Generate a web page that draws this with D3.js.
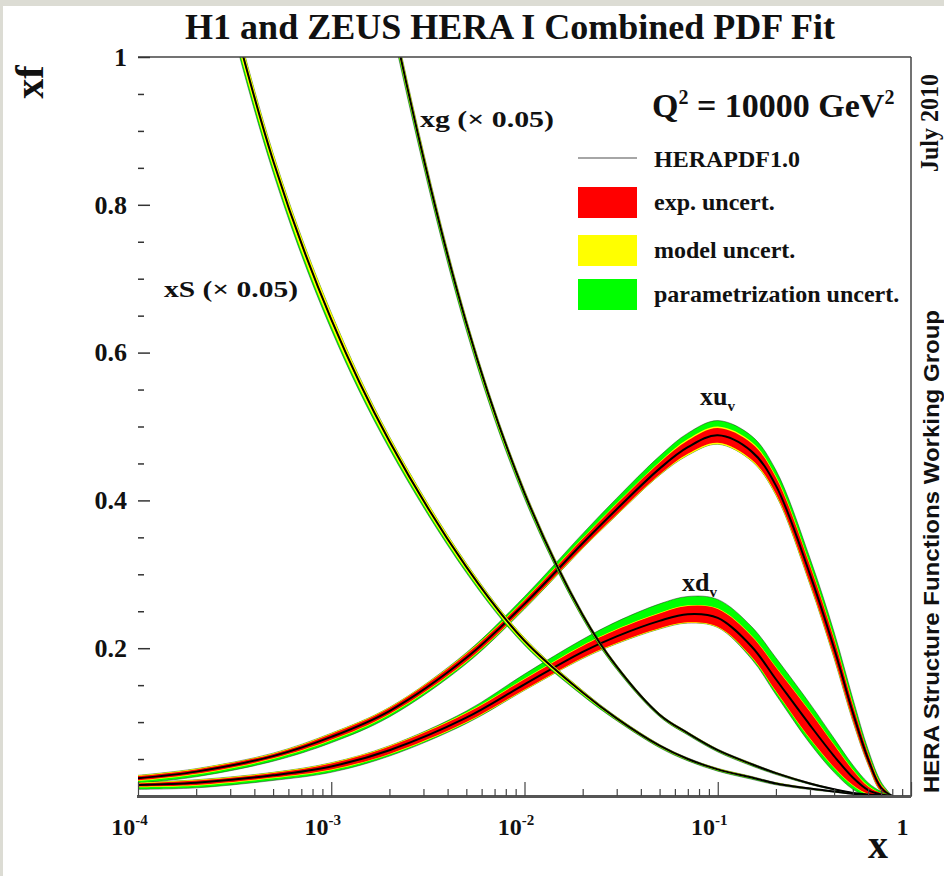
<!DOCTYPE html>
<html>
<head>
<meta charset="utf-8">
<script src="https://cdn.jsdelivr.net/npm/d3@7"></script>
<style>
  body { margin: 0; background: #dcdcd4; }
  svg { display: block; }
  text { font-family: "Liberation Serif", "DejaVu Serif", serif; font-weight: bold; fill: #111; }
</style>
</head>
<body>
<div id="chart"></div>
<script>
// x grid (momentum fraction)
const xValues = [1e-4, 2e-4, 5e-4, 1e-3, 2e-3, 5e-3, 0.01, 0.02, 0.03, 0.05, 0.07, 0.1, 0.15, 0.2, 0.3, 0.4, 0.5, 0.6, 0.7, 0.8];

// xu_v
const xuv       = [0.024, 0.033, 0.054, 0.080, 0.115, 0.187, 0.260, 0.342, 0.388, 0.443, 0.472, 0.488, 0.466, 0.420, 0.300, 0.200, 0.113, 0.050, 0.011, 0];
const xuvExp    = [0.003, 0.003, 0.003, 0.004, 0.004, 0.005, 0.005, 0.006, 0.007, 0.008, 0.009, 0.010, 0.011, 0.011, 0.012, 0.012, 0.010, 0.007, 0.004, 0];
const xuvModel  = [0.001, 0.001, 0.001, 0.001, 0.001, 0.001, 0.001, 0.001, 0.001, 0.001, 0.002, 0.002, 0.002, 0.002, 0.002, 0.002, 0.002, 0.001, 0.001, 0];
const xuvParUp  = [0, 0, 0, 0, 0, 0.001, 0.004, 0.006, 0.007, 0.008, 0.008, 0.008, 0.008, 0.008, 0.008, 0.008, 0.007, 0.005, 0.003, 0];
const xuvParDn  = [0.003, 0.003, 0.003, 0.003, 0.003, 0.002, 0.001, 0, 0, 0, 0, 0, 0, 0, 0, 0, 0, 0, 0, 0];

// xd_v
const xdv       = [0.015, 0.018, 0.028, 0.040, 0.062, 0.106, 0.151, 0.195, 0.216, 0.237, 0.246, 0.241, 0.202, 0.158, 0.096, 0.054, 0.025, 0.008, 0.002, 0];
const xdvExp    = [0.002, 0.003, 0.003, 0.004, 0.005, 0.006, 0.007, 0.008, 0.009, 0.010, 0.011, 0.012, 0.014, 0.016, 0.018, 0.015, 0.010, 0.005, 0.002, 0];
const xdvModel  = [0.001, 0.001, 0.001, 0.001, 0.001, 0.001, 0.001, 0.001, 0.001, 0.001, 0.001, 0.001, 0.001, 0.001, 0.001, 0.001, 0.001, 0.001, 0, 0];
const xdvParUp  = [0, 0, 0, 0, 0, 0.002, 0.006, 0.008, 0.010, 0.012, 0.012, 0.012, 0.012, 0.012, 0.010, 0.008, 0.006, 0.004, 0.002, 0];
const xdvParDn  = [0.003, 0.003, 0.003, 0.003, 0.002, 0.001, 0, 0, 0, 0, 0, 0, 0.002, 0.004, 0.006, 0.006, 0.005, 0.003, 0.001, 0];

// xS (x 0.05)
const xS        = [1.60, 1.25, 0.86, 0.645, 0.48, 0.31, 0.21, 0.14, 0.105, 0.068, 0.05, 0.036, 0.025, 0.017, 0.010, 0.006, 0.003, 0.0015, 0.0005, 0];
const xSExp     = [0.004, 0.003, 0.002, 0.002, 0.0015, 0.001, 0.001, 0.0008, 0.0006, 0.0005, 0.0005, 0.0004, 0.0004, 0.0003, 0.0003, 0.0002, 0.0001, 0.0001, 0, 0];
const xSModel   = [0.012, 0.010, 0.008, 0.007, 0.005, 0.004, 0.003, 0.002, 0.0015, 0.0012, 0.001, 0.001, 0.001, 0.0008, 0.0005, 0.0003, 0.0002, 0.0001, 0, 0];
const xSParUp   = [0, 0, 0, 0, 0, 0, 0, 0, 0, 0, 0, 0, 0, 0, 0, 0, 0, 0, 0, 0];
const xSParDn   = [0.008, 0.007, 0.006, 0.005, 0.004, 0.003, 0.002, 0.0015, 0.001, 0.001, 0.001, 0.001, 0.001, 0.0008, 0.0005, 0.0003, 0.0002, 0.0001, 0, 0];

// xg (x 0.05)
const xg        = [4.5, 3.3, 2.1, 1.5, 1.07, 0.64, 0.41, 0.245, 0.175, 0.11, 0.085, 0.062, 0.043, 0.031, 0.017, 0.009, 0.004, 0.002, 0.0007, 0];
const xgExp     = [0.010, 0.008, 0.005, 0.004, 0.003, 0.002, 0.0015, 0.001, 0.0008, 0.0006, 0.0005, 0.0004, 0.0004, 0.0003, 0.0003, 0.0002, 0.0001, 0.0001, 0, 0];
const xgModel   = [0.020, 0.015, 0.010, 0.008, 0.006, 0.004, 0.003, 0.002, 0.0015, 0.001, 0.001, 0.001, 0.001, 0.0008, 0.0005, 0.0003, 0.0002, 0.0001, 0, 0];
const xgParUp   = [0, 0, 0, 0, 0, 0, 0, 0, 0, 0, 0, 0, 0, 0, 0, 0, 0, 0, 0, 0];
const xgParDn   = [0.015, 0.012, 0.008, 0.006, 0.005, 0.004, 0.003, 0.002, 0.0015, 0.001, 0.001, 0.001, 0.001, 0.0008, 0.0005, 0.0003, 0.0002, 0.0001, 0, 0];

// ticks
const yTicks = [0.2, 0.4, 0.6, 0.8, 1];
const yTickLabels = ["0.2", "0.4", "0.6", "0.8", "1"];
const yMinorTicks = [0.05, 0.1, 0.15, 0.25, 0.3, 0.35, 0.45, 0.5, 0.55, 0.65, 0.7, 0.75, 0.85, 0.9, 0.95];
const xTicks = [1e-4, 1e-3, 1e-2, 1e-1, 1];
const xTickLabels = [["10", "-4"], ["10", "-3"], ["10", "-2"], ["10", "-1"], ["1", ""]];

const legendLabels = ["exp. uncert.", "model uncert.", "parametrization uncert."];
const legendColors = ["#ff0000", "#ffff00", "#00ff00"];

const W = 944, H = 876;
const svg = d3.select("#chart").append("svg").attr("width", W).attr("height", H);
svg.append("rect").attr("x", 3).attr("y", 6).attr("width", W - 3).attr("height", H - 6).attr("fill", "#fff");

const x = d3.scaleLog().domain([1e-4, 1]).range([138, 911]);
const y = d3.scaleLinear().domain([0, 1]).range([796, 57]);

svg.append("defs").append("clipPath").attr("id", "plotClip")
  .append("rect").attr("x", 138).attr("y", 57).attr("width", 773).attr("height", 739);

const plot = svg.append("g").attr("clip-path", "url(#plotClip)");
const smooth = d3.curveCatmullRom.alpha(0.5);

function drawPdf(c, exp, mod, parUp, parDn) {
  const pts = xValues.map((xv, i) => ({x: xv, c: c[i], e: exp[i], m: mod[i], pu: parUp[i], pd: parDn[i]}));
  const band = (lo, hi) => d3.area()
    .x(d => x(d.x)).y0(d => y(lo(d))).y1(d => y(hi(d)))
    .curve(smooth);
  plot.append("path").datum(pts)
    .attr("d", band(d => d.c - d.e - d.m - d.pd, d => d.c + d.e + d.m + d.pu))
    .attr("fill", "#00ff00").attr("stroke", "#222").attr("stroke-width", 0.8).attr("stroke-opacity", 0.6);
  plot.append("path").datum(pts)
    .attr("d", band(d => d.c - d.e - d.m, d => d.c + d.e + d.m))
    .attr("fill", "#ffff00");
  plot.append("path").datum(pts)
    .attr("d", band(d => d.c - d.e, d => d.c + d.e))
    .attr("fill", "#ff0000");
  plot.append("path").datum(pts)
    .attr("d", d3.line().x(d => x(d.x)).y(d => y(d.c)).curve(smooth))
    .attr("fill", "none").attr("stroke", "#000").attr("stroke-width", 2);
}

drawPdf(xuv, xuvExp, xuvModel, xuvParUp, xuvParDn);
drawPdf(xdv, xdvExp, xdvModel, xdvParUp, xdvParDn);
drawPdf(xS, xSExp, xSModel, xSParUp, xSParDn);
drawPdf(xg, xgExp, xgModel, xgParUp, xgParDn);

// frame (top, right, bottom)
svg.append("line").attr("x1", 138).attr("x2", 911).attr("y1", 57).attr("y2", 57)
  .attr("stroke", "#444").attr("stroke-width", 1.5);
svg.append("line").attr("x1", 911).attr("x2", 911).attr("y1", 57).attr("y2", 797)
  .attr("stroke", "#444").attr("stroke-width", 1.5);
svg.append("line").attr("x1", 137).attr("x2", 911).attr("y1", 796.5).attr("y2", 796.5)
  .attr("stroke", "#555").attr("stroke-width", 3);

// y axis
const yAxisG = svg.append("g").attr("transform", "translate(138,0)")
  .call(d3.axisLeft(y).tickValues(yTicks).tickFormat((d, i) => yTickLabels[i])
    .tickSizeInner(-12).tickSizeOuter(0).tickPadding(11));
yAxisG.select(".domain").remove();
yAxisG.attr("font-size", 26);
yAxisG.selectAll(".tick line").attr("stroke", "#333").attr("stroke-width", 1.5);

const yMinorG = svg.append("g").attr("transform", "translate(138,0)")
  .call(d3.axisLeft(y).tickValues(yMinorTicks).tickFormat("").tickSizeInner(-6).tickSizeOuter(0));
yMinorG.select(".domain").remove();
yMinorG.selectAll(".tick line").attr("stroke", "#333").attr("stroke-width", 1.5);

// x axis
const xMinor = [];
for (let e = -4; e < 0; e++) {
  for (let m = 2; m <= 9; m++) xMinor.push(m * Math.pow(10, e));
}
const xMinorG = svg.append("g").attr("transform", "translate(0,796)")
  .call(d3.axisBottom(x).tickValues(xMinor).tickFormat("").tickSizeInner(-7).tickSizeOuter(0));
xMinorG.select(".domain").remove();
xMinorG.selectAll(".tick line").attr("stroke", "#444").attr("stroke-width", 1.2);

const xAxisG = svg.append("g").attr("transform", "translate(0,796)")
  .call(d3.axisBottom(x).tickValues(xTicks).tickFormat(() => "")
    .tickSizeInner(-14).tickSizeOuter(0).tickPadding(22));
xAxisG.select(".domain").remove();
xAxisG.attr("font-size", 24);
xAxisG.selectAll(".tick line").attr("stroke", "#444").attr("stroke-width", 1.2);
xAxisG.selectAll(".tick text").each(function(d, i) {
  const t = d3.select(this);
  t.attr("dx", -9);
  t.append("tspan").text(xTickLabels[i][0]);
  if (xTickLabels[i][1]) {
    t.append("tspan").attr("dy", -10).attr("font-size", 15).text(xTickLabels[i][1]);
  }
});

// axis titles
svg.append("text").attr("x", 878).attr("y", 858).attr("text-anchor", "middle")
  .attr("font-size", 40).text("x");
svg.append("text").attr("transform", "translate(43,82) rotate(-90)").attr("text-anchor", "middle")
  .attr("font-size", 40).text("xf");

// title
svg.append("text").attr("x", 510).attr("y", 39).attr("text-anchor", "middle")
  .attr("font-size", 36).text("H1 and ZEUS HERA I Combined PDF Fit");

// Q2 label
const q = svg.append("text").attr("x", 652).attr("y", 117).attr("font-size", 34);
q.append("tspan").text("Q");
q.append("tspan").attr("dy", -13).attr("font-size", 20).text("2");
q.append("tspan").attr("dy", 13).text(" = 10000 GeV");
q.append("tspan").attr("dy", -13).attr("font-size", 20).text("2");

// legend
svg.append("line").attr("x1", 578).attr("x2", 637).attr("y1", 158).attr("y2", 158)
  .attr("stroke", "#888").attr("stroke-width", 1.5);
svg.append("text").attr("x", 654).attr("y", 167).attr("font-size", 24).text("HERAPDF1.0");
const legendY = [187, 235, 279];
const legend = svg.append("g");
legend.selectAll("rect").data(legendLabels).enter().append("rect")
  .attr("x", 578).attr("y", (d, i) => legendY[i]).attr("width", 59).attr("height", 31)
  .attr("fill", (d, i) => legendColors[i]);
legend.selectAll("text").data(legendLabels).enter().append("text")
  .attr("x", 654).attr("y", (d, i) => legendY[i] + 23).attr("font-size", 24).text(d => d);

// curve labels
svg.append("text").attr("x", 420).attr("y", 127).attr("font-size", 24)
  .attr("textLength", 134).attr("lengthAdjust", "spacingAndGlyphs").text("xg (\u00d7 0.05)");
svg.append("text").attr("x", 164).attr("y", 297).attr("font-size", 24)
  .attr("textLength", 134).attr("lengthAdjust", "spacingAndGlyphs").text("xS (\u00d7 0.05)");
const uLab = svg.append("text").attr("x", 700).attr("y", 405).attr("font-size", 26);
uLab.append("tspan").text("xu");
uLab.append("tspan").attr("dy", 6).attr("font-size", 15).text("v");
const dLab = svg.append("text").attr("x", 682).attr("y", 591).attr("font-size", 26);
dLab.append("tspan").text("xd");
dLab.append("tspan").attr("dy", 6).attr("font-size", 15).text("v");

// side notes
svg.append("text").attr("transform", "translate(938,172) rotate(-90)").attr("font-size", 25)
  .attr("textLength", 98).attr("lengthAdjust", "spacingAndGlyphs")
  .text("July 2010");
svg.append("text").attr("transform", "translate(939,793) rotate(-90)")
  .style("font-family", "'Liberation Sans', Arial, sans-serif").attr("font-size", 22)
  .attr("textLength", 483).attr("lengthAdjust", "spacingAndGlyphs")
  .text("HERA Structure Functions Working Group");
</script>
</body>
</html>
